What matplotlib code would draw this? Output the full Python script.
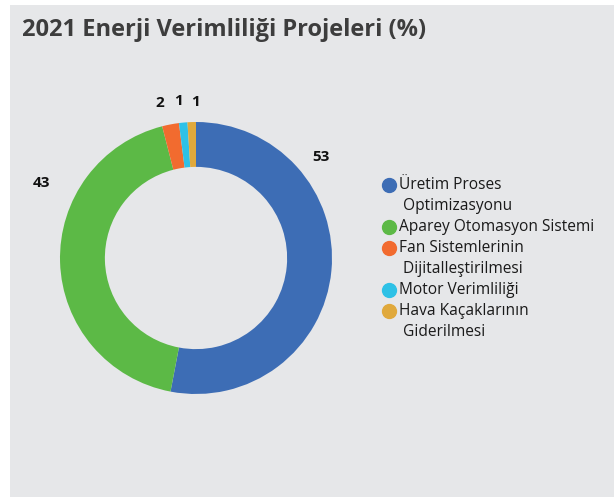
import numpy as np
import matplotlib.pyplot as plt
from matplotlib.patches import Rectangle

# data
labels = ["Üretim Proses\n Optimizasyonu", "Aparey Otomasyon Sistemi",
          "Fan Sistemlerinin\n Dijitalleştirilmesi", "Motor Verimliliği",
          "Hava Kaçaklarının\n Giderilmesi"]
values = [53, 43, 2, 1, 1]
colors = ["#3d6db5", "#5cb946", "#f26b2f", "#2ec1e6", "#e0a93c"]
label_angles = [39, 154, 103, 96.5, 90]   # where the value labels sit (deg)
label_radius = [1.18, 1.26, 1.17, 1.16, 1.15]

plt.rcParams['font.family'] = ['Open Sans', 'DejaVu Sans']

W, H = 614, 497
fig = plt.figure(figsize=(W / 100, H / 100), dpi=100)
fig.patch.set_facecolor("white")
fig.patches.append(Rectangle((10 / W, 0), 1, (H - 5) / H, transform=fig.transFigure,
                             facecolor="#e6e7e9", edgecolor="none", zorder=-5))

fig.text(22 / W, 1 - 30 / H, "2021 Enerji Verimliliği Projeleri (%)", fontsize=17,
         fontweight="bold", color="#3d3d3d", va="center", ha="left")

# donut centred at (196, 258) px, outer radius 136 px
cx, cy, r = 196, 258, 136
ax = fig.add_axes([(cx - r) / W, (H - cy - r) / H, 2 * r / W, 2 * r / H])
ax.set_zorder(1)
ax.pie(values, colors=colors, startangle=90, counterclock=False, radius=1,
       wedgeprops=dict(width=0.33, edgecolor="none"))
ax.set_xlim(-1, 1)
ax.set_ylim(-1, 1)
ax.set_aspect("equal")
ax.axis("off")

for v, a, rr in zip(values, label_angles, label_radius):
    t = np.deg2rad(a)
    ax.text(rr * np.cos(t), rr * np.sin(t), str(v), ha="center", va="center",
            fontsize=11, fontweight="bold", color="#111111", clip_on=False)

# legend drawn by hand
line_h = 21
y0 = 185
line = 0
for lab, c in zip(labels, colors):
    y = y0 + line * line_h
    fig.lines.append(plt.Line2D([389 / W], [1 - y / H], marker="o", markersize=10,
                                color=c, linestyle="none", transform=fig.transFigure))
    for k, part in enumerate(lab.split("\n")):
        fig.text(399 / W, 1 - (y + k * line_h) / H, part, fontsize=11.2,
                 color="#1a1a1a", va="center", ha="left")
    line += lab.count("\n") + 1

fig.savefig("out.png", dpi=100)
